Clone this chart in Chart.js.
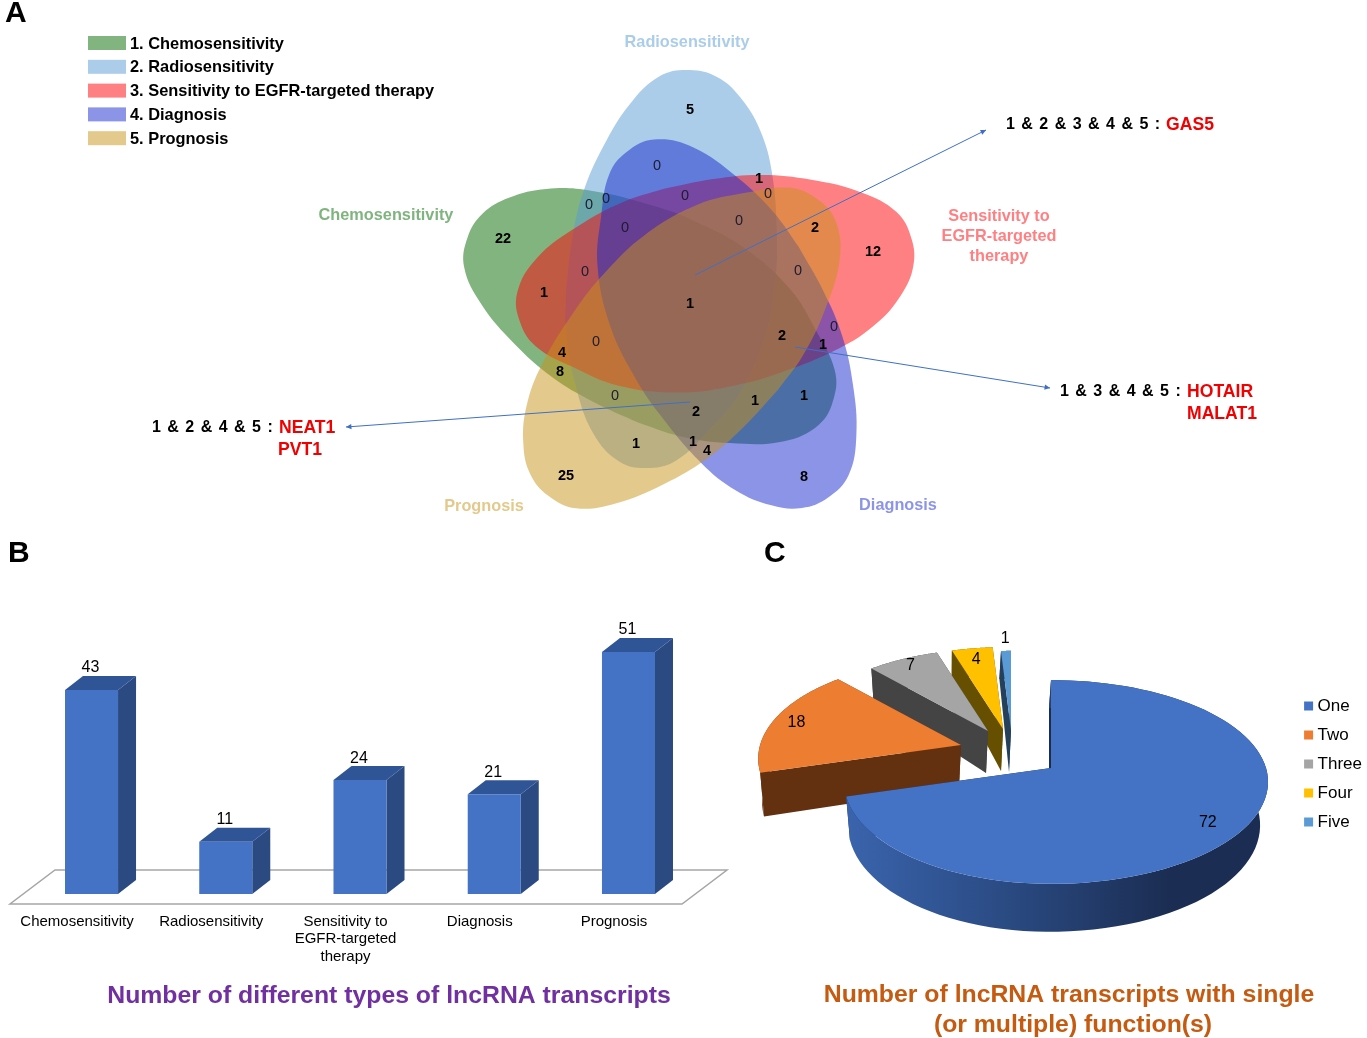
<!DOCTYPE html>
<html>
<head>
<meta charset="utf-8">
<title>lncRNA transcripts</title>
<script src="https://cdn.jsdelivr.net/npm/chart.js@4"></script>
<style>
  body { margin: 0; background: #fff; overflow: hidden; }
  canvas { position: absolute; }
  #vennChart { left: 0; top: 0; }
  #barChart { left: 0; top: 535px; }
  #pieChart { left: 740px; top: 535px; }
</style>
</head>
<body>
<canvas id="vennChart" width="1367" height="530"></canvas>
<canvas id="barChart" width="745" height="503"></canvas>
<canvas id="pieChart" width="627" height="503"></canvas>
<script>
const petalOutline = [[566,290],[566,333],[575,383],[593,433],[620,462],[650,468],[677,460],[707,432],[740,393],[765,337],[775,283],[777,237],[772,173],[760,130],[740,97],[717,77],[690,70],[660,76],[630,104],[603,147],[583,193],[572,240],[566,290]];
const vennCentre = [688, 297];
const petalTurns = {chemo: -72, radio: 0, egfr: 72, diag: 144, prog: -144};
const petalNudge = {chemo: [-5,12], radio: [0,0], egfr: [7,10], diag: [8,16], prog: [-5,16]};

const regionValues = [5,0,1,0,0,0,0,0,0,2,12,22,0,0,1,1,2,0,1,0,4,8,0,2,1,1,1,1,4,25,8];
const regionX = [690,657,759,768,589,606,685,739,625,815,873,503,585,798,544,690,782,834,823,596,562,560,615,696,755,804,636,693,707,566,804];
const regionY = [110,166,179,194,205,199,196,221,228,228,252,239,272,271,293,304,336,327,345,342,353,372,396,412,401,396,444,442,451,476,477];

const gas5Line = [[695,275],[986,130]];
const hotairLine = [[795,347],[1050,388]];
const neat1Line = [[690,402],[346,427]];

const vennLegend = ['1. Chemosensitivity','2. Radiosensitivity','3. Sensitivity to EGFR-targeted therapy','4. Diagnosis','5. Prognosis'];
const vennSwatches = ['#82b47f','#abcde9','#ff8083','#8b94e6','#e4c98c'];

// B - bars
const barCategories = ['Chemosensitivity','Radiosensitivity',['Sensitivity to','EGFR-targeted','therapy'],'Diagnosis','Prognosis'];
const barValues = [43,11,24,21,51];

// C - pie
const pieLabels = ['One','Two','Three','Four','Five'];
const pieValues = [72,18,7,4,1];

const textFont = '"Liberation Sans", Arial, sans-serif';
const redName = {font:'bold 17.6px', align:'left', color:'#f00000'};
const comboText = {font:'bold 16px', align:'left', spacing:'1px'};

const vennTexts = [
  {t:'A', x:5, y:13, font:'bold 30px', align:'left'},
  {t:'Radiosensitivity', x:687, y:42, font:'bold 16.3px', color:'#abcde9'},
  {t:'Chemosensitivity', x:386, y:215, font:'bold 16.3px', color:'#7fb47f'},
  {t:'Sensitivity to', x:999, y:216, font:'bold 16.3px', color:'#ff8083'},
  {t:'EGFR-targeted', x:999, y:236, font:'bold 16.3px', color:'#ff8083'},
  {t:'therapy', x:999, y:256, font:'bold 16.3px', color:'#ff8083'},
  {t:'Prognosis', x:484, y:506, font:'bold 16.3px', color:'#e4c98c'},
  {t:'Diagnosis', x:898, y:505, font:'bold 16.3px', color:'#8b94e6'},
  {t:'1 & 2 & 3 & 4 & 5 :', x:1006, y:124, ...comboText},
  {t:'GAS5', x:1166, y:124, ...redName},
  {t:'1 & 3 & 4 & 5 :', x:1060, y:391, ...comboText},
  {t:'HOTAIR', x:1187, y:391, ...redName},
  {t:'MALAT1', x:1187, y:413, ...redName},
  {t:'1 & 2 & 4 & 5 :', x:152, y:427, ...comboText},
  {t:'NEAT1', x:279, y:427, ...redName},
  {t:'PVT1', x:278, y:449, ...redName}
];
const barTexts = [
  {t:'B', x:8, y:553, font:'bold 30px', align:'left'},
  {t:'Number of different types of lncRNA transcripts', x:389, y:995, font:'bold 24.8px', color:'#7030a0'}
];
const pieTexts = [
  {t:'C', x:764, y:553, font:'bold 30px', align:'left'},
  {t:'Number of lncRNA transcripts with single', x:1069, y:994, font:'bold 24.8px', color:'#c55a11'},
  {t:'(or multiple) function(s)', x:1073, y:1024, font:'bold 24.8px', color:'#c55a11'}
];

function drawTexts(ctx, items, left, top) {
  ctx.save();
  ctx.textBaseline = 'middle';
  items.forEach(it => {
    ctx.font = it.font + ' ' + textFont;
    ctx.fillStyle = it.color || '#000';
    ctx.textAlign = it.align || 'center';
    ctx.letterSpacing = it.spacing || '0px';
    ctx.fillText(it.t, it.x - left, it.y - top + 1);
  });
  ctx.restore();
}

function toPoints(list) {
  return list.map(p => ({x: p[0], y: p[1]}));
}

function turned(list, degrees, nudge) {
  const a = degrees * Math.PI / 180;
  const c = Math.cos(a), s = Math.sin(a);
  return list.map(p => {
    const dx = p[0] - vennCentre[0], dy = p[1] - vennCentre[1];
    return {x: vennCentre[0] + nudge[0] + dx * c - dy * s, y: vennCentre[1] + nudge[1] + dx * s + dy * c};
  });
}

function petal(name, key, color) {
  return {label: name, data: turned(petalOutline, petalTurns[key], petalNudge[key]), showLine: true, fill: 'shape', tension: 0.4,
    backgroundColor: color, borderWidth: 0, pointRadius: 0};
}

function calloutLine(name, line) {
  return {label: name, data: toPoints(line), showLine: true, fill: false, tension: 0,
    borderColor: '#3f6fc4', borderWidth: 1, pointRadius: 0};
}

const vennPlugin = {
  id: 'vennExtras',
  afterDatasetsDraw(chart) {
    const ctx = chart.ctx;
    const sx = chart.scales.x, sy = chart.scales.y;
    // arrow heads on the callouts
    [gas5Line, hotairLine, neat1Line].forEach(line => {
      const x1 = sx.getPixelForValue(line[0][0]), y1 = sy.getPixelForValue(line[0][1]);
      const x2 = sx.getPixelForValue(line[1][0]), y2 = sy.getPixelForValue(line[1][1]);
      const a = Math.atan2(y2 - y1, x2 - x1);
      ctx.save();
      ctx.fillStyle = '#3f6fc4';
      ctx.beginPath();
      ctx.moveTo(x2, y2);
      ctx.lineTo(x2 - 6 * Math.cos(a - 0.45), y2 - 6 * Math.sin(a - 0.45));
      ctx.lineTo(x2 - 6 * Math.cos(a + 0.45), y2 - 6 * Math.sin(a + 0.45));
      ctx.closePath();
      ctx.fill();
      ctx.restore();
    });
    // region counts
    ctx.save();
    ctx.textAlign = 'center';
    ctx.textBaseline = 'middle';
    regionValues.forEach((v, i) => {
      ctx.font = (v === 0 ? '' : 'bold ') + '14.5px ' + textFont;
      ctx.fillStyle = v === 0 ? '#1c1c30' : '#000';
      ctx.fillText(String(v), sx.getPixelForValue(regionX[i]), sy.getPixelForValue(regionY[i]));
    });
    ctx.restore();
    // legend
    ctx.save();
    ctx.textBaseline = 'middle';
    ctx.textAlign = 'left';
    ctx.font = 'bold 16.4px ' + textFont;
    vennLegend.forEach((label, i) => {
      const y = 43 + i * 23.8;
      ctx.fillStyle = vennSwatches[i];
      ctx.fillRect(88, y - 7, 38, 14);
      ctx.fillStyle = '#000';
      ctx.fillText(label, 130, y + 1);
    });
    ctx.restore();
    drawTexts(ctx, vennTexts, 0, 0);
  }
};

new Chart(document.getElementById('vennChart'), {
  type: 'scatter',
  data: {
    datasets: [
      calloutLine('GAS5', gas5Line),
      calloutLine('HOTAIR, MALAT1', hotairLine),
      calloutLine('NEAT1, PVT1', neat1Line),
      petal('Prognosis', 'prog', 'rgba(201,147,25,0.5)'),
      petal('Diagnosis', 'diag', 'rgba(23,41,205,0.5)'),
      petal('Sensitivity to EGFR-targeted therapy', 'egfr', 'rgba(255,1,7,0.5)'),
      petal('Radiosensitivity', 'radio', 'rgba(87,155,211,0.5)'),
      petal('Chemosensitivity', 'chemo', 'rgba(5,105,0,0.5)')
    ]
  },
  options: {
    responsive: false,
    animation: false,
    layout: {padding: 0},
    plugins: {legend: {display: false}, tooltip: {enabled: false}},
    scales: {
      x: {type: 'linear', display: false, min: 0, max: 1367},
      y: {type: 'linear', display: false, min: 0, max: 530, reverse: true}
    }
  },
  plugins: [vennPlugin]
});

// bars get a fake 3D side and top, plus the floor plate behind them
const barDepthX = 18, barDepthY = 14;
const bar3dPlugin = {
  id: 'bar3d',
  beforeDatasetsDraw(chart) {
    const ctx = chart.ctx;
    const area = chart.chartArea;
    const floorFront = area.bottom + 10, floorBack = area.bottom - 24;
    ctx.save();
    ctx.strokeStyle = '#a6a6a6';
    ctx.lineWidth = 1.5;
    ctx.beginPath();
    ctx.moveTo(10, floorFront);
    ctx.lineTo(682, floorFront);
    ctx.lineTo(727, floorBack);
    ctx.lineTo(55, floorBack);
    ctx.closePath();
    ctx.stroke();
    chart.getDatasetMeta(0).data.forEach(bar => {
      const right = bar.x + bar.width / 2, left = bar.x - bar.width / 2;
      ctx.fillStyle = '#2b4a82';
      ctx.beginPath();
      ctx.moveTo(right, bar.y);
      ctx.lineTo(right + barDepthX, bar.y - barDepthY);
      ctx.lineTo(right + barDepthX, bar.base - barDepthY);
      ctx.lineTo(right, bar.base);
      ctx.closePath();
      ctx.fill();
      ctx.fillStyle = '#305596';
      ctx.beginPath();
      ctx.moveTo(left, bar.y);
      ctx.lineTo(left + barDepthX, bar.y - barDepthY);
      ctx.lineTo(right + barDepthX, bar.y - barDepthY);
      ctx.lineTo(right, bar.y);
      ctx.closePath();
      ctx.fill();
    });
    ctx.restore();
  },
  afterDatasetsDraw(chart) {
    const ctx = chart.ctx;
    ctx.save();
    ctx.font = '16px ' + textFont;
    ctx.fillStyle = '#000';
    ctx.textAlign = 'center';
    ctx.textBaseline = 'middle';
    chart.getDatasetMeta(0).data.forEach((bar, i) => {
      ctx.fillText(String(barValues[i]), bar.x - 1, bar.y - 22);
    });
    ctx.restore();
    drawTexts(ctx, barTexts, 0, 535);
  }
};

new Chart(document.getElementById('barChart'), {
  type: 'bar',
  data: {
    labels: barCategories,
    datasets: [{data: barValues, backgroundColor: '#4472c4', barPercentage: 0.395, categoryPercentage: 1}]
  },
  options: {
    responsive: false,
    animation: false,
    layout: {padding: {left: 24.4, right: 49.4, top: 74.3, bottom: 0}},
    plugins: {legend: {display: false}, tooltip: {enabled: false}},
    scales: {
      x: {
        grid: {display: false, drawTicks: false},
        border: {display: false},
        afterFit(scale) { scale.height = 144; },
        ticks: {autoSkip: false, maxRotation: 0, minRotation: 0, padding: 19, labelOffset: -14.5, color: '#000',
          font: {family: textFont, size: 15, lineHeight: 1.17}}
      },
      y: {display: false, min: 0, max: 60}
    }
  },
  plugins: [bar3dPlugin]
});

// pie is drawn in perspective from the angles the library works out
const pieLeft = 740, pieTop = 535;
const pieColors = ['#4472c4','#ed7d31','#a5a5a5','#ffc000','#5b9bd5'];
const pieWalls = ['#1b2d52','#633010','#444444','#665000','#24405a'];
const pieShiftX = [0,-90,-63,-48,-40];
const pieShiftY = [0,-23,-37,-39,-38];
const pieScale = [1,0.98,0.93,0.93,0.9];
const pieLabelR = [0.85,0.88,0.9,0.85,1.18];

function piePoint(ang, r, i, down) {
  const u = Math.cos(ang) * r, v = Math.sin(ang) * r;
  const w = 1 - 0.137 * v;
  const k = pieScale[i];
  let x = 1051 + pieShiftX[i] + (u > 0 ? 215 : 205) * k * u / w - pieLeft;
  let y = 768 + pieShiftY[i] + 100 * k * v / w - pieTop;
  if (down) {
    x -= 6 * u + 2;
    y += 42 + (v > 0 ? 6 : 14) * v;
  }
  return [x, y];
}

function polygon(ctx, pts) {
  ctx.beginPath();
  pts.forEach((p, n) => n ? ctx.lineTo(p[0], p[1]) : ctx.moveTo(p[0], p[1]));
  ctx.closePath();
  ctx.fill();
}

const pie3dPlugin = {
  id: 'pie3d',
  beforeDatasetsDraw(chart) {
    const ctx = chart.ctx;
    const arcs = chart.getDatasetMeta(0).data;
    ctx.save();
    for (let i = arcs.length - 1; i >= 0; i--) {
      const a0 = arcs[i].startAngle, a1 = arcs[i].endAngle;
      const top = [], bottom = [];
      for (let n = 0; n <= 90; n++) {
        const a = a0 + (a1 - a0) * n / 90;
        top.push(piePoint(a, 1, i, false));
        bottom.push(piePoint(a, 1, i, true));
      }
      const apex = piePoint(0, 0, i, false), apexDown = piePoint(0, 0, i, true);
      ctx.fillStyle = pieWalls[i];
      polygon(ctx, [apex, top[0], bottom[0], apexDown]);
      polygon(ctx, [apex, top[90], bottom[90], apexDown]);
      if (i === 0) {
        const grad = ctx.createLinearGradient(846 - pieLeft, 0, 1170 - pieLeft, 0);
        grad.addColorStop(0, '#3a64ad');
        grad.addColorStop(0.5, '#2a4a82');
        grad.addColorStop(1, '#1b2d52');
        ctx.fillStyle = grad;
      }
      polygon(ctx, top.concat(bottom.slice().reverse()));
      ctx.fillStyle = pieColors[i];
      polygon(ctx, [apex].concat(top));
    }
    ctx.font = '16px ' + textFont;
    ctx.fillStyle = '#000';
    ctx.textAlign = 'center';
    ctx.textBaseline = 'middle';
    arcs.forEach((arc, i) => {
      const p = piePoint((arc.startAngle + arc.endAngle) / 2, pieLabelR[i], i, false);
      ctx.fillText(String(pieValues[i]), p[0], p[1]);
    });
    ctx.restore();
    drawTexts(ctx, pieTexts, pieLeft, pieTop);
    return false;
  }
};

new Chart(document.getElementById('pieChart'), {
  type: 'pie',
  data: {
    labels: pieLabels,
    datasets: [{data: pieValues, backgroundColor: pieColors, borderWidth: 0}]
  },
  options: {
    responsive: false,
    animation: false,
    layout: {padding: {bottom: 45, right: -5}},
    plugins: {
      tooltip: {enabled: false},
      legend: {
        position: 'right',
        labels: {usePointStyle: true, pointStyle: 'rect', boxWidth: 1, boxHeight: 9, padding: 12, color: '#000',
          font: {family: textFont, size: 17}}
      }
    }
  },
  plugins: [pie3dPlugin]
});
</script>
</body>
</html>
